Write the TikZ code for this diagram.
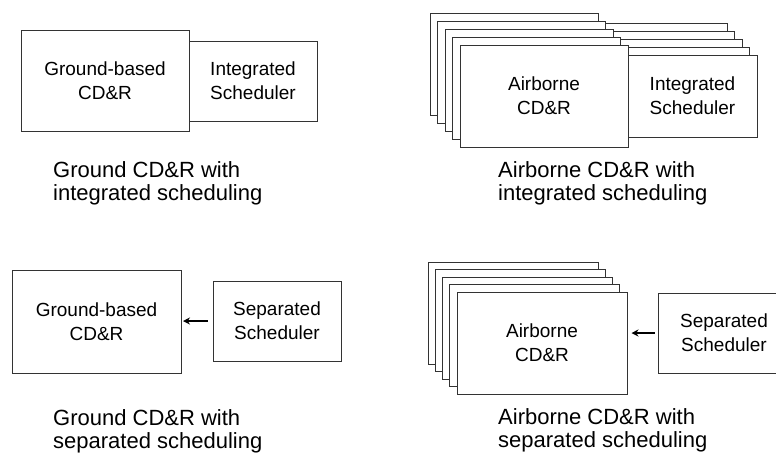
\documentclass[tikz,border=0pt]{standalone}
\usepackage{fontspec}
\setmainfont{Liberation Sans}
\usetikzlibrary{arrows.meta}
\begin{document}
\begin{tikzpicture}[x=1pt,y=-1pt,
  box/.style={draw=black!80, line width=1pt, fill=white, inner sep=0pt, align=center,
    font=\fontsize{19}{24}\selectfont},
  captxt/.style={anchor=north west, inner sep=0pt, align=left,
    font=\fontsize{22}{23.5}\selectfont},
  arr/.style={-{Stealth[length=7pt,width=7pt]}, line width=1.4pt, draw=black}]
\useasboundingbox (0,0) rectangle (776,456);
\clip (0,0) rectangle (776,456);

% ---- top left: ground CD&R, integrated scheduler
\node[box, minimum width=128pt, minimum height=80pt] (tls) at (253,81) {Integrated\\Scheduler};
\node[box, minimum width=168pt, minimum height=101pt] (tlb) at (105,80.5) {Ground-based\\CD\&R};
\node[captxt] (tlc) at (53,161) {Ground CD\&R with\\integrated scheduling};

% ---- top right: airborne CD&R, integrated scheduler (stack)
\foreach \k in {4,3,2,1} {
  \node[box, minimum width=168pt, minimum height=102pt] (trb\k) at ({544-7.5*\k},{96-8*\k}) {};
  \node[box, minimum width=129pt, minimum height=82pt] (trs\k) at ({692.5-7.5*\k},{96-8*\k}) {};
}
\node[box, minimum width=129pt, minimum height=82pt] (trs) at (692.5,96) {Integrated\\Scheduler};
\node[box, minimum width=168pt, minimum height=102pt] (trb) at (544,96) {Airborne\\CD\&R};
\node[captxt] (trc) at (498,161) {Airborne CD\&R with\\integrated scheduling};

% ---- bottom left: ground CD&R, separated scheduler
\node[box, minimum width=169pt, minimum height=103pt] (blb) at (96.5,321.5) {Ground-based\\CD\&R};
\node[box, minimum width=128pt, minimum height=80pt] (bls) at (277,321) {Separated\\Scheduler};
\draw[arr, shorten <=5pt, shorten >=1.5pt] (bls.west) -- (blb.east |- bls.west);
\node[captxt] (blc) at (53,409) {Ground CD\&R with\\separated scheduling};

% ---- bottom right: airborne CD&R, separated scheduler
\foreach \k in {4,3,2,1} {
  \node[box, minimum width=170pt, minimum height=102pt] (brb\k) at ({542-7.25*\k},{343-7.5*\k}) {};
}
\node[box, minimum width=170pt, minimum height=102pt] (brb) at (542,343) {Airborne\\CD\&R};
\node[box, minimum width=132pt, minimum height=80pt] (brs) at (724,333) {Separated\\Scheduler};
\draw[arr, shorten <=3pt, shorten >=4pt] (brs.west) -- (brb.east |- brs.west);
\node[captxt] (brc) at (498,408) {Airborne CD\&R with\\separated scheduling};
\end{tikzpicture}
\end{document}
